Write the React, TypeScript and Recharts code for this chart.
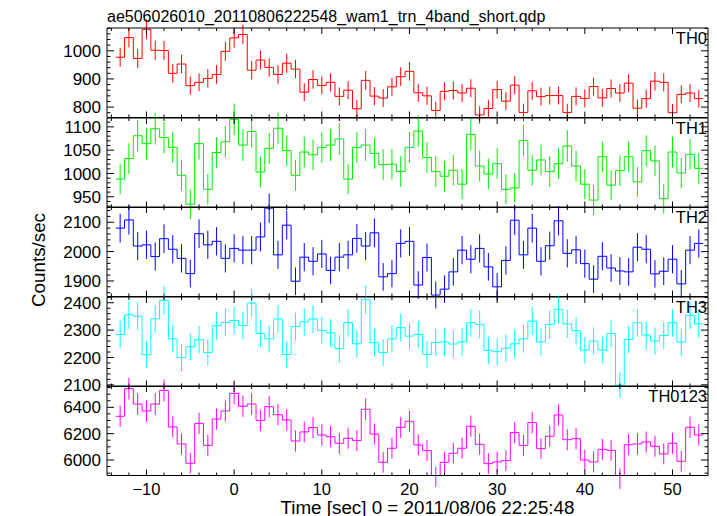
import React from 'react';
import { ComposedChart, Line, Scatter, ErrorBar, XAxis, YAxis } from 'recharts';

const FONT = '"Liberation Sans", Arial, Helvetica, sans-serif';

const TITLE = 'ae506026010_20110806222548_wam1_trn_4band_short.qdp';
const X_LABEL = 'Time [sec] 0 = 2011/08/06 22:25:48';
const Y_LABEL = 'Counts/sec';

const TIMES = [
  -13, -12, -11, -10, -9, -8, -7, -6, -5, -4,
  -3, -2, -1, 0, 1, 2, 3, 4, 5, 6,
  7, 8, 9, 10, 11, 12, 13, 14, 15, 16,
  17, 18, 19, 20, 21, 22, 23, 24, 25, 26,
  27, 28, 29, 30, 31, 32, 33, 34, 35, 36,
  37, 38, 39, 40, 41, 42, 43, 44, 45, 46,
  47, 48, 49, 50, 51, 52, 53,
];

const TH0 = [
  977, 1047, 973, 1076, 1002, 1001, 920, 953, 876, 888,
  902, 916, 998, 1046, 1058, 931, 967, 941, 916, 956,
  935, 853, 898, 877, 888, 838, 860, 794, 895, 839,
  832, 872, 908, 927, 851, 840, 788, 856, 859, 850,
  867, 772, 795, 862, 821, 878, 781, 858, 837, 841,
  841, 781, 838, 831, 873, 833, 866, 850, 885, 796,
  830, 892, 888, 780, 845, 850, 830,
];
const TH0_ERR = [
  34, 35, 34, 36, 34, 34, 33, 33, 32, 32,
  33, 33, 34, 35, 35, 33, 34, 33, 33, 34,
  33, 32, 33, 32, 32, 32, 32, 31, 33, 32,
  32, 32, 33, 33, 32, 32, 31, 32, 32, 32,
  32, 31, 31, 32, 32, 32, 31, 32, 32, 32,
  32, 31, 32, 32, 32, 32, 32, 32, 32, 31,
  32, 33, 32, 31, 32, 32, 32,
];

const TH1 = [
  988, 1032, 1081, 1064, 1096, 1077, 1056, 996, 934, 1064,
  966, 1045, 1068, 1116, 1061, 1090, 1003, 1054, 1097, 1049,
  996, 1046, 1040, 1056, 1061, 1074, 988, 1056, 1061, 1043,
  1019, 1020, 1004, 1056, 1091, 1034, 1004, 994, 1007, 977,
  1084, 1016, 999, 1021, 966, 969, 1071, 1007, 1029, 1004,
  1021, 1059, 1016, 977, 943, 1036, 975, 1006, 1036, 982,
  1049, 1027, 946, 1046, 1001, 1041, 1011,
];
const TH1_ERR = [
  33, 33, 34, 34, 34, 34, 33, 33, 32, 34,
  33, 33, 34, 34, 34, 34, 33, 33, 34, 33,
  33, 33, 33, 33, 34, 34, 33, 33, 34, 33,
  33, 33, 33, 33, 34, 33, 33, 33, 33, 32,
  34, 33, 33, 33, 32, 32, 34, 33, 33, 33,
  33, 34, 33, 32, 32, 33, 32, 33, 33, 32,
  33, 33, 32, 33, 33, 33, 33,
];

const TH2 = [
  2080, 2108, 2019, 2023, 1983, 2044, 2008, 1977, 1925, 2061,
  2023, 2035, 1977, 2011, 2005, 2005, 2050, 2148, 1989, 2090,
  1899, 1981, 1967, 1992, 1936, 1981, 1989, 2045, 2019, 2064,
  1914, 1925, 2028, 2035, 1886, 1980, 1852, 1872, 1931, 2005,
  1974, 2011, 1948, 1880, 1970, 2107, 1989, 2080, 1967, 2020,
  2105, 1994, 2006, 1959, 1906, 1984, 1944, 1934, 1931, 2015,
  2008, 1924, 1933, 1974, 1890, 2005, 2028,
];
const TH2_ERR = [
  49, 50, 48, 48, 48, 49, 48, 48, 47, 49,
  48, 48, 48, 48, 48, 48, 49, 50, 48, 49,
  47, 48, 48, 48, 47, 48, 48, 49, 48, 49,
  47, 47, 48, 49, 47, 48, 46, 47, 47, 48,
  48, 48, 47, 47, 48, 50, 48, 49, 48, 48,
  50, 48, 48, 48, 47, 48, 47, 47, 47, 48,
  48, 47, 47, 48, 47, 48, 48,
];

const TH3 = [
  2284, 2356, 2351, 2210, 2341, 2409, 2268, 2199, 2239, 2265,
  2218, 2316, 2328, 2335, 2317, 2399, 2288, 2268, 2341, 2211,
  2313, 2330, 2341, 2299, 2290, 2232, 2327, 2250, 2411, 2254,
  2218, 2268, 2309, 2278, 2284, 2211, 2255, 2257, 2249, 2257,
  2327, 2321, 2226, 2221, 2234, 2250, 2268, 2333, 2257, 2321,
  2376, 2323, 2298, 2227, 2260, 2227, 2288, 2099, 2266, 2327,
  2282, 2260, 2280, 2327, 2256, 2354, 2323,
];
const TH3_ERR = [
  50, 51, 51, 49, 51, 52, 50, 49, 50, 50,
  49, 51, 51, 51, 51, 52, 50, 50, 51, 49,
  51, 51, 51, 50, 50, 50, 51, 50, 52, 50,
  49, 50, 51, 50, 50, 49, 50, 50, 50, 50,
  51, 51, 50, 49, 50, 50, 50, 51, 50, 51,
  51, 51, 50, 49, 50, 49, 50, 48, 50, 51,
  50, 50, 50, 51, 50, 51, 51,
];

const TH0123 = [
  6332, 6542, 6425, 6372, 6425, 6529, 6251, 6122, 5975, 6278,
  6111, 6311, 6372, 6506, 6408, 6425, 6301, 6405, 6344, 6304,
  6144, 6213, 6246, 6190, 6177, 6127, 6165, 6147, 6385, 6197,
  5982, 6089, 6248, 6294, 6114, 6071, 5872, 5982, 6051, 6089,
  6256, 6119, 5972, 5985, 5995, 6208, 6111, 6284, 6086, 6180,
  6342, 6154, 6162, 6000, 5985, 6081, 6073, 5858, 6116, 6122,
  6137, 6104, 6046, 6127, 5990, 6248, 6190,
];
const TH0123_ERR = [
  81, 83, 82, 81, 82, 83, 80, 80, 79, 81,
  80, 81, 81, 82, 82, 82, 81, 82, 81, 81,
  80, 80, 81, 80, 80, 80, 80, 80, 82, 80,
  79, 79, 81, 81, 80, 79, 78, 79, 79, 80,
  81, 80, 79, 79, 79, 80, 80, 81, 79, 80,
  81, 80, 80, 79, 79, 80, 79, 78, 80, 80,
  80, 80, 79, 80, 79, 81, 80,
];

const X_DOMAIN = [-14.5, 54.05];
const X_MAJOR = [-10, 0, 10, 20, 30, 40, 50];
const X_TICKS = [-14, -12, -10, -8, -6, -4, -2, 0, 2, 4, 6, 8, 10, 12, 14, 16, 18, 20, 22, 24, 26, 28, 30, 32, 34, 36, 38, 40, 42, 44, 46, 48, 50, 52];

const PANELS = [
  {
    name: 'TH0', values: TH0, errors: TH0_ERR, color: '#ff0000', domain: [763, 1081],
    major: [800, 900, 1000],
    ticks: [780, 800, 820, 840, 860, 880, 900, 920, 940, 960, 980, 1000, 1020, 1040, 1060, 1080],
  },
  {
    name: 'TH1', values: TH1, errors: TH1_ERR, color: '#00ee00', domain: [927, 1119],
    major: [950, 1000, 1050, 1100],
    ticks: [930, 940, 950, 960, 970, 980, 990, 1000, 1010, 1020, 1030, 1040, 1050, 1060, 1070, 1080, 1090, 1100, 1110],
  },
  {
    name: 'TH2', values: TH2, errors: TH2_ERR, color: '#0000ff', domain: [1847, 2152],
    major: [1900, 2000, 2100],
    ticks: [1860, 1880, 1900, 1920, 1940, 1960, 1980, 2000, 2020, 2040, 2060, 2080, 2100, 2120, 2140],
  },
  {
    name: 'TH3', values: TH3, errors: TH3_ERR, color: '#00ffff', domain: [2094, 2421],
    major: [2100, 2200, 2300, 2400],
    ticks: [2100, 2120, 2140, 2160, 2180, 2200, 2220, 2240, 2260, 2280, 2300, 2320, 2340, 2360, 2380, 2400, 2420],
  },
  {
    name: 'TH0123', values: TH0123, errors: TH0123_ERR, color: '#ff00ff', domain: [5882, 6562],
    major: [6000, 6200, 6400],
    ticks: [5900, 5950, 6000, 6050, 6100, 6150, 6200, 6250, 6300, 6350, 6400, 6450, 6500, 6550],
  },
];

const WIDTH = 717;
const LEFT_W = 107;
const RIGHT_W = 9;
const PANEL_TOPS = [28, 117.5, 207, 296.5, 386];
const PANEL_H = 89.5;
const PAD = 14;
const LAST_BOTTOM = 40;
const TICK_COLOR = '#000';

const fmtNum = (v: number) => (v < 0 ? '\u2212' + Math.abs(v) : String(v));

function XTick(props: any) {
  const { x, y, payload, side, showLabel } = props;
  const v = payload.value;
  const major = X_MAJOR.includes(v);
  const len = major ? 6 : 3;
  const y2 = side === 'bottom' ? y - len : y + len;
  return (
    <g>
      <line x1={x} x2={x} y1={y} y2={y2} stroke={TICK_COLOR} strokeWidth={1} />
      {showLabel && major ? (
        <text x={x} y={y + 19} textAnchor="middle" fontSize={16.5} fontFamily={FONT} fill="#000">
          {fmtNum(v)}
        </text>
      ) : null}
    </g>
  );
}

function YTick(props: any) {
  const { x, y, payload, side, major } = props;
  const v = payload.value;
  const isMajor = major.includes(v);
  const len = isMajor ? 7 : 3.5;
  const x2 = side === 'left' ? x + len : x - len;
  return (
    <g>
      <line x1={x} x2={x2} y1={y} y2={y} stroke={TICK_COLOR} strokeWidth={1} />
      {side === 'left' && isMajor ? (
        <text x={x - 6} y={y} dy="0.36em" textAnchor="end" fontSize={17} fontFamily={FONT} fill="#000">
          {v}
        </text>
      ) : null}
    </g>
  );
}

function Panel({ panel, index }: { panel: any; index: number }) {
  const last = index === PANELS.length - 1;
  const bottomH = last ? LAST_BOTTOM : PAD;
  const bins = TIMES.map((t, i) => ({ t, v: panel.values[i], e: panel.errors[i] }));
  const edges = TIMES.map((t, i) => ({ t: t - 0.5, v: panel.values[i] }));
  edges.push({ t: TIMES[TIMES.length - 1] + 0.5, v: panel.values[panel.values.length - 1] });
  return (
    <div style={{ position: 'absolute', left: 0, top: PANEL_TOPS[index] - PAD }}>
      <ComposedChart
        width={WIDTH}
        height={PAD + PANEL_H + bottomH}
        margin={{ top: 0, right: 0, bottom: 0, left: 0 }}
      >
        <XAxis
          xAxisId="b"
          type="number"
          dataKey="t"
          domain={X_DOMAIN}
          allowDataOverflow
          ticks={X_TICKS}
          interval={0}
          orientation="bottom"
          height={bottomH}
          tickSize={0}
          tickMargin={0}
          tickLine={false}
          axisLine={{ stroke: '#000', strokeWidth: 1 }}
          tick={(p: any) => <XTick {...p} side="bottom" showLabel={last} />}
        />
        <XAxis
          xAxisId="top"
          type="number"
          dataKey="t"
          domain={X_DOMAIN}
          allowDataOverflow
          ticks={X_TICKS}
          interval={0}
          orientation="top"
          height={PAD}
          tickSize={0}
          tickMargin={0}
          tickLine={false}
          axisLine={{ stroke: '#000', strokeWidth: 1 }}
          tick={(p: any) => <XTick {...p} side="top" showLabel={false} />}
        />
        <YAxis
          yAxisId="l"
          type="number"
          domain={panel.domain}
          allowDataOverflow
          ticks={panel.ticks}
          interval={0}
          orientation="left"
          width={LEFT_W}
          tickSize={0}
          tickMargin={0}
          tickLine={false}
          axisLine={{ stroke: '#000', strokeWidth: 1 }}
          tick={(p: any) => <YTick {...p} side="left" major={panel.major} />}
        />
        <YAxis
          yAxisId="r"
          type="number"
          domain={panel.domain}
          allowDataOverflow
          ticks={panel.ticks}
          interval={0}
          orientation="right"
          width={RIGHT_W}
          tickSize={0}
          tickMargin={0}
          tickLine={false}
          axisLine={{ stroke: '#000', strokeWidth: 1 }}
          tick={(p: any) => <YTick {...p} side="right" major={panel.major} />}
        />
        <Line
          xAxisId="b"
          yAxisId="l"
          data={edges}
          dataKey="v"
          type="stepAfter"
          stroke={panel.color}
          strokeWidth={1}
          dot={false}
          activeDot={false}
          isAnimationActive={false}
        />
        <Scatter
          xAxisId="b"
          yAxisId="l"
          data={bins}
          dataKey="v"
          shape={() => <g />}
          isAnimationActive={false}
        >
          <ErrorBar
            dataKey="e"
            direction="y"
            width={0}
            stroke={panel.color}
            strokeWidth={1}
            isAnimationActive={false}
          />
        </Scatter>
      </ComposedChart>
    </div>
  );
}

export default function App() {
  return (
    <div style={{ position: 'absolute', left: 0, top: 0, width: WIDTH, height: 516, background: '#fff' }}>
      <style>{`.recharts-surface{overflow:visible} .recharts-wrapper g{clip-path:none !important}`}</style>
      {PANELS.map((p, i) => (
        <Panel key={p.name} panel={p} index={i} />
      ))}
      <svg
        width={WIDTH}
        height={516}
        style={{ position: 'absolute', left: 0, top: 0, pointerEvents: 'none' }}
      >
        <text x={107} y={21.5} fontSize={16} fontFamily={FONT} fill="#000">
          {TITLE}
        </text>
        {PANELS.map((p, i) => (
          <text
            key={p.name}
            x={707}
            y={PANEL_TOPS[i] + 16}
            textAnchor="end"
            fontSize={16.5}
            fontFamily={FONT}
            fill="#000"
          >
            {p.name}
          </text>
        ))}
        <text
          x={427.5}
          y={513.5}
          textAnchor="middle"
          fontSize={18.8}
          fontFamily={FONT}
          fill="#000"
        >
          {X_LABEL}
        </text>
        <text
          x={0}
          y={0}
          transform={`translate(44.5, 260) rotate(-90)`}
          textAnchor="middle"
          fontSize={18.8}
          fontFamily={FONT}
          fill="#000"
        >
          {Y_LABEL}
        </text>
      </svg>
    </div>
  );
}
